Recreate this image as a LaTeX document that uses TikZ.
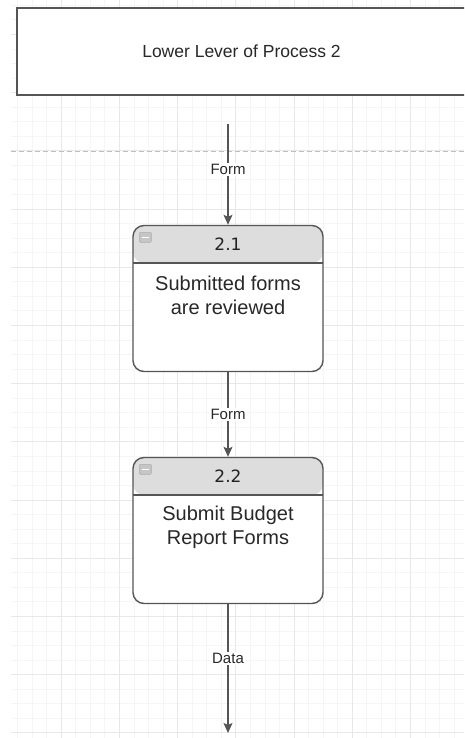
\documentclass[tikz,border=0pt]{standalone}
\usepackage{fontspec}
\setmainfont{Liberation Sans}
\newfontfamily\numfont{DejaVu Sans}
\usetikzlibrary{arrows.meta, positioning}
\definecolor{linegray}{RGB}{85,85,85}
\definecolor{headgray}{RGB}{221,221,221}
\definecolor{gridlight}{RGB}{245,245,245}
\definecolor{griddark}{RGB}{232,232,232}
\definecolor{txtgray}{RGB}{40,40,40}

\begin{document}
\begin{tikzpicture}[x=1pt, y=-1pt,
  gridminor/.style={gridlight, line width=0.8pt},
  gridmajor/.style={griddark, line width=1pt},
  pagebreak/.style={gray!50, line width=1pt, dash pattern=on 5pt off 3pt},
  levelbox/.style={rectangle, draw=linegray, line width=1.6pt, fill=white,
                   minimum width=470pt, minimum height=87pt, text=txtgray,
                   font=\fontsize{17.5}{21}\selectfont},
  procbox/.style={rectangle, rounded corners=11pt, draw=linegray,
                  line width=1.4pt, fill=white,
                  minimum width=190pt, minimum height=146pt,
                  path picture={
                    \fill[headgray] (path picture bounding box.north west)
                      rectangle ([yshift=-37.5pt]path picture bounding box.north east);
                    \draw[linegray, line width=1.4pt]
                      ([yshift=-37.5pt]path picture bounding box.north west) --
                      ([yshift=-37.5pt]path picture bounding box.north east);}},
  iconbox/.style={rectangle, rounded corners=1pt, draw=gray!65, fill=gray!45,
                  minimum width=12pt, minimum height=10pt, inner sep=0pt,
                  path picture={
                    \draw[white, line width=1pt]
                      ([xshift=2.5pt]path picture bounding box.west) --
                      ([xshift=-2.5pt]path picture bounding box.east);}},
  numtext/.style={font=\numfont\fontsize{17}{20}\selectfont, text=txtgray!85!black},
  bodytext/.style={align=center, text=txtgray, font=\fontsize{20}{24}\selectfont},
  lbl/.style={fill=white, inner sep=1.5pt, text=txtgray,
              font=\fontsize{15}{18}\selectfont},
  flow/.style={-{Stealth[length=10pt, width=9pt, inset=2pt]}, line width=1.3pt,
               draw=linegray}
]
\useasboundingbox (0,0) rectangle (464,738);
\clip (0,0) rectangle (464,738);
\fill[white] (0,0) rectangle (464,738);

% background grid
\foreach \i in {-3,...,27}
  \draw[gridminor] ({61.2+14.55*\i},0) -- ({61.2+14.55*\i},738);
\foreach \j in {-14,...,36}
  \draw[gridminor] (11,{209+14.55*\j}) -- (464,{209+14.55*\j});
\foreach \i in {0,...,6}
  \draw[gridmajor] ({61.2+58.2*\i},0) -- ({61.2+58.2*\i},738);
\foreach \j in {-3,...,9}
  \draw[gridmajor] (11,{209+58.2*\j}) -- (464,{209+58.2*\j});

\node[levelbox] (lvl) at (252,51.5) {\hspace*{-21pt}Lower Lever of Process 2};
\draw[pagebreak] (11,152) -- (464,152);

% process 2.1
\node[procbox] (p21) at (228,298.5) {};
\node[iconbox] (i21) at ([xshift=13pt,yshift=-12.5pt]p21.north west) {};
\node[numtext] (n21) at ([yshift=-19pt]p21.north) {2.1};
\node[bodytext] (b21) at ([yshift=-70.5pt]p21.north) {Submitted forms\\are reviewed};

% process 2.2
\node[procbox] (p22) at (228,530.5) {};
\node[iconbox] (i22) at ([xshift=13pt,yshift=-12.5pt]p22.north west) {};
\node[numtext] (n22) at ([yshift=-19.5pt]p22.north) {2.2};
\node[bodytext] (b22) at ([yshift=-71pt]p22.north) {Submit Budget\\Report Forms};

\coordinate (in1)  at (228,124);
\coordinate (out1) at (228,733);
\draw[flow] (in1) -- node[lbl, pos=0.45] (f1) {Form} (p21);
\draw[flow] (p21) -- node[lbl] (f2) {Form} (p22);
\draw[flow] (p22) -- node[lbl, pos=0.42] (d1) {Data} (out1);
\end{tikzpicture}
\end{document}
